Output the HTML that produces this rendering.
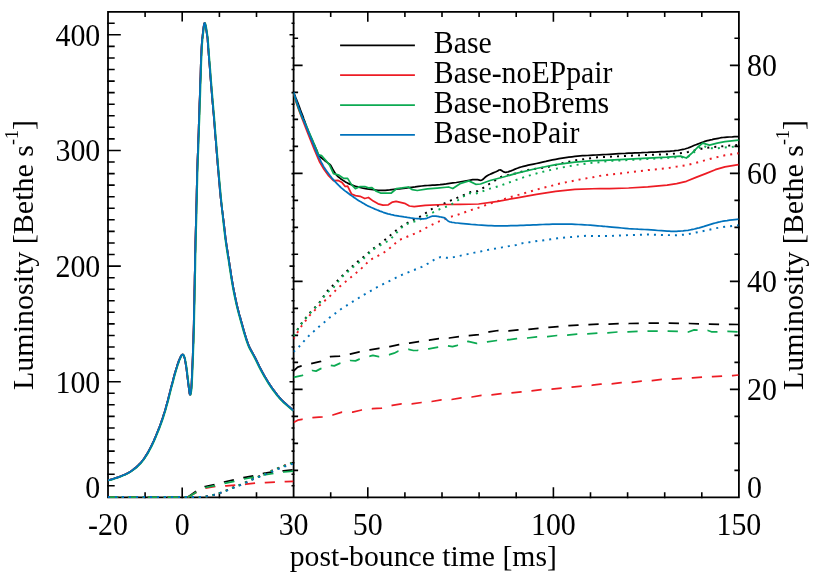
<!DOCTYPE html>
<html><head><meta charset="utf-8"><title>Luminosity</title>
<style>
html,body{margin:0;padding:0;background:#fff;}
svg{display:block;will-change:transform;}
.t{font-family:"Liberation Serif",serif;font-size:30.0px;fill:#000;}
</style></head><body>
<svg width="830" height="575" viewBox="0 0 830 575">
<defs><clipPath id="cl"><rect x="107.5" y="11.8" width="186.10000000000002" height="486.75"/></clipPath><clipPath id="cr"><rect x="293.6" y="11.8" width="445.79999999999995" height="486.75"/></clipPath></defs>
<rect width="830" height="575" fill="#fff"/>
<path d="M145.1 497.35 v-4.4 M145.1 11.8 v4.4 M182.2 497.35 v-9.0 M182.2 11.8 v9.0 M219.4 497.35 v-4.4 M219.4 11.8 v4.4 M256.5 497.35 v-4.4 M256.5 11.8 v4.4 M330.7 497.35 v-4.4 M330.7 11.8 v4.4 M367.8 497.35 v-9.2 M367.8 11.8 v9.2 M404.9 497.35 v-4.4 M404.9 11.8 v4.4 M442.0 497.35 v-4.4 M442.0 11.8 v4.4 M479.1 497.35 v-4.4 M479.1 11.8 v4.4 M516.2 497.35 v-4.4 M516.2 11.8 v4.4 M553.4 497.35 v-9.2 M553.4 11.8 v9.2 M590.5 497.35 v-4.4 M590.5 11.8 v4.4 M627.6 497.35 v-4.4 M627.6 11.8 v4.4 M664.7 497.35 v-4.4 M664.7 11.8 v4.4 M701.8 497.35 v-4.4 M701.8 11.8 v4.4 M108.0 485.8 h5.9 M293.6 485.8 h-1.3 M108.0 474.2 h5.9 M293.6 474.2 h-1.3 M108.0 462.7 h5.9 M293.6 462.7 h-1.3 M108.0 451.1 h5.9 M293.6 451.1 h-1.3 M108.0 439.5 h5.9 M293.6 439.5 h-1.3 M108.0 428.0 h5.9 M293.6 428.0 h-1.3 M108.0 416.4 h5.9 M293.6 416.4 h-1.3 M108.0 404.8 h5.9 M293.6 404.8 h-1.3 M108.0 393.3 h5.9 M293.6 393.3 h-1.3 M108.0 381.7 h12.0 M293.6 381.7 h-3.3 M108.0 370.2 h5.9 M293.6 370.2 h-1.3 M108.0 358.6 h5.9 M293.6 358.6 h-1.3 M108.0 347.0 h5.9 M293.6 347.0 h-1.3 M108.0 335.5 h5.9 M293.6 335.5 h-1.3 M108.0 323.9 h5.9 M293.6 323.9 h-1.3 M108.0 312.3 h5.9 M293.6 312.3 h-1.3 M108.0 300.8 h5.9 M293.6 300.8 h-1.3 M108.0 289.2 h5.9 M293.6 289.2 h-1.3 M108.0 277.7 h5.9 M293.6 277.7 h-1.3 M108.0 266.1 h12.0 M293.6 266.1 h-3.3 M108.0 254.5 h5.9 M293.6 254.5 h-1.3 M108.0 243.0 h5.9 M293.6 243.0 h-1.3 M108.0 231.4 h5.9 M293.6 231.4 h-1.3 M108.0 219.8 h5.9 M293.6 219.8 h-1.3 M108.0 208.3 h5.9 M293.6 208.3 h-1.3 M108.0 196.7 h5.9 M293.6 196.7 h-1.3 M108.0 185.1 h5.9 M293.6 185.1 h-1.3 M108.0 173.6 h5.9 M293.6 173.6 h-1.3 M108.0 162.0 h5.9 M293.6 162.0 h-1.3 M108.0 150.5 h12.0 M293.6 150.5 h-3.3 M108.0 138.9 h5.9 M293.6 138.9 h-1.3 M108.0 127.3 h5.9 M293.6 127.3 h-1.3 M108.0 115.8 h5.9 M293.6 115.8 h-1.3 M108.0 104.2 h5.9 M293.6 104.2 h-1.3 M108.0 92.6 h5.9 M293.6 92.6 h-1.3 M108.0 81.1 h5.9 M293.6 81.1 h-1.3 M108.0 69.5 h5.9 M293.6 69.5 h-1.3 M108.0 58.0 h5.9 M293.6 58.0 h-1.3 M108.0 46.4 h5.9 M293.6 46.4 h-1.3 M108.0 34.8 h12.0 M293.6 34.8 h-3.3 M108.0 23.3 h5.9 M293.6 23.3 h-1.3 M293.6 470.4 h3.7 M738.9 470.4 h-3.7 M293.6 443.4 h3.7 M738.9 443.4 h-3.7 M293.6 416.4 h3.7 M738.9 416.4 h-3.7 M293.6 389.4 h8.2 M738.9 389.4 h-8.2 M293.6 362.4 h3.7 M738.9 362.4 h-3.7 M293.6 335.4 h3.7 M738.9 335.4 h-3.7 M293.6 308.4 h3.7 M738.9 308.4 h-3.7 M293.6 281.4 h8.2 M738.9 281.4 h-8.2 M293.6 254.3 h3.7 M738.9 254.3 h-3.7 M293.6 227.4 h3.7 M738.9 227.4 h-3.7 M293.6 200.4 h3.7 M738.9 200.4 h-3.7 M293.6 173.4 h8.2 M738.9 173.4 h-8.2 M293.6 146.4 h3.7 M738.9 146.4 h-3.7 M293.6 119.4 h3.7 M738.9 119.4 h-3.7 M293.6 92.4 h3.7 M738.9 92.4 h-3.7 M293.6 65.4 h8.2 M738.9 65.4 h-8.2 M293.6 38.3 h3.7 M738.9 38.3 h-3.7" fill="none" stroke="#000" stroke-width="1.6" stroke-linecap="square" stroke-linejoin="miter"/>
<path d="M108.0 11.8 H738.9 V497.35 H108.0 Z M293.6 11.8 V497.35" fill="none" stroke="#000" stroke-width="1.8" stroke-linecap="square" stroke-linejoin="miter"/>
<path d="M108.0 480.3 L109.1 480.0 L110.5 479.6 L112.3 479.1 L114.1 478.5 L116.0 477.9 L117.8 477.3 L119.5 476.7 L121.2 476.0 L123.0 475.3 L124.7 474.6 L126.4 473.8 L128.1 472.9 L129.7 471.9 L131.4 470.9 L133.0 469.7 L134.5 468.5 L136.1 467.3 L137.5 466.0 L138.8 464.7 L140.1 463.4 L141.3 462.0 L142.5 460.5 L143.7 458.9 L144.9 457.2 L146.1 455.3 L147.4 453.3 L148.6 451.1 L149.8 448.8 L151.1 446.4 L152.3 443.9 L153.6 441.2 L154.8 438.3 L156.1 435.3 L157.3 432.3 L158.6 429.2 L159.7 426.2 L160.8 423.3 L161.8 420.4 L162.8 417.5 L163.7 414.6 L164.7 411.5 L165.6 408.4 L166.5 405.1 L167.5 401.6 L168.4 398.0 L169.3 394.4 L170.2 390.9 L171.0 387.7 L171.8 384.7 L172.6 381.8 L173.3 379.0 L174.0 376.3 L174.7 373.8 L175.4 371.4 L176.1 369.1 L176.8 366.9 L177.4 364.8 L178.1 362.9 L178.7 361.1 L179.3 359.6 L179.9 358.3 L180.4 357.1 L180.9 356.2 L181.3 355.5 L181.8 354.9 L182.2 354.6 L182.6 354.5 L183.0 354.6 L183.3 354.9 L183.6 355.4 L184.0 356.2 L184.3 357.2 L184.7 358.5 L185.0 360.2 L185.4 362.1 L185.7 364.2 L186.1 366.3 L186.4 368.5 L186.7 370.8 L187.0 373.3 L187.3 375.9 L187.6 378.5 L187.9 381.0 L188.2 383.3 L188.5 385.6 L188.8 388.0 L189.1 390.3 L189.4 392.3 L189.6 393.8 L189.9 394.5 L190.2 394.5 L190.4 393.9 L190.7 392.7 L190.9 391.0 L191.2 388.9 L191.4 386.2 L191.6 382.9 L191.8 378.8 L192.0 374.2 L192.2 369.4 L192.4 364.4 L192.6 359.6 L192.8 355.0 L192.9 350.6 L193.1 346.0 L193.3 341.2 L193.4 335.9 L193.6 330.0 L193.8 323.2 L193.9 315.6 L194.1 307.5 L194.3 299.3 L194.4 291.2 L194.6 283.5 L194.7 276.3 L194.9 269.2 L195.0 262.4 L195.1 255.5 L195.3 248.7 L195.4 241.8 L195.6 234.7 L195.8 227.3 L196.0 220.0 L196.2 212.8 L196.3 206.1 L196.5 200.0 L196.6 194.9 L196.7 190.6 L196.8 186.7 L196.9 182.9 L197.0 178.6 L197.1 173.5 L197.3 167.4 L197.5 160.7 L197.8 153.6 L198.1 146.3 L198.3 138.9 L198.6 131.8 L198.8 124.8 L199.1 117.8 L199.3 110.8 L199.5 103.8 L199.8 96.8 L200.0 90.0 L200.2 83.0 L200.5 75.8 L200.7 68.7 L200.9 61.9 L201.2 55.8 L201.4 50.7 L201.6 46.7 L201.8 43.7 L202.0 41.4 L202.1 39.4 L202.4 37.5 L202.6 35.4 L202.9 32.9 L203.2 30.1 L203.5 27.5 L203.9 25.2 L204.2 23.6 L204.6 23.0 L205.0 23.6 L205.4 25.2 L205.9 27.5 L206.3 30.1 L206.7 32.9 L207.1 35.4 L207.4 37.5 L207.6 39.4 L207.7 41.4 L207.9 43.7 L208.1 46.7 L208.4 50.7 L208.8 56.0 L209.3 62.3 L209.9 69.4 L210.4 76.6 L211.0 83.6 L211.5 90.0 L212.0 95.7 L212.4 101.0 L212.9 106.2 L213.3 111.2 L213.8 116.2 L214.2 121.3 L214.6 126.5 L215.0 131.7 L215.4 136.9 L215.9 142.2 L216.3 147.4 L216.7 152.6 L217.2 158.0 L217.6 163.6 L218.1 169.2 L218.6 174.6 L219.0 179.6 L219.4 183.9 L219.7 187.4 L219.9 190.2 L220.2 192.6 L220.4 194.8 L220.6 197.2 L220.9 200.0 L221.3 203.2 L221.7 206.6 L222.2 210.1 L222.7 213.8 L223.1 217.4 L223.6 220.9 L224.0 224.4 L224.4 227.9 L224.8 231.4 L225.2 234.8 L225.6 238.3 L226.1 241.8 L226.6 245.3 L227.1 248.7 L227.7 252.2 L228.2 255.7 L228.8 259.1 L229.3 262.6 L229.8 266.1 L230.4 269.6 L230.9 273.0 L231.4 276.5 L232.0 280.0 L232.6 283.5 L233.2 287.0 L233.9 290.7 L234.7 294.3 L235.4 297.8 L236.1 301.2 L236.8 304.4 L237.5 307.2 L238.1 309.7 L238.7 312.0 L239.3 314.4 L240.1 317.0 L240.9 320.0 L241.9 323.6 L243.0 327.6 L244.2 331.8 L245.5 336.0 L246.7 339.9 L247.9 343.3 L249.0 346.1 L250.1 348.4 L251.2 350.5 L252.3 352.4 L253.4 354.4 L254.6 356.6 L255.8 359.0 L257.0 361.4 L258.2 363.9 L259.4 366.4 L260.7 368.9 L262.0 371.4 L263.4 373.9 L264.8 376.4 L266.3 378.9 L267.8 381.4 L269.3 383.8 L270.9 386.2 L272.5 388.5 L274.2 390.8 L275.9 393.1 L277.6 395.3 L279.4 397.4 L281.3 399.5 L283.4 401.6 L285.7 403.7 L288.1 405.8 L290.3 407.7 L292.2 409.3 L293.5 410.5" fill="none" stroke="#000000" stroke-width="1.75" stroke-linejoin="round" stroke-linecap="butt" clip-path="url(#cl)"/>
<path d="M108.0 480.3 L109.1 480.0 L110.5 479.6 L112.3 479.1 L114.1 478.5 L116.0 477.9 L117.8 477.3 L119.5 476.7 L121.2 476.0 L123.0 475.3 L124.7 474.6 L126.4 473.8 L128.1 472.9 L129.7 471.9 L131.4 470.9 L133.0 469.7 L134.5 468.5 L136.1 467.3 L137.5 466.0 L138.8 464.7 L140.1 463.4 L141.3 462.0 L142.5 460.5 L143.7 458.9 L144.9 457.2 L146.1 455.3 L147.4 453.3 L148.6 451.1 L149.8 448.8 L151.1 446.4 L152.3 443.9 L153.6 441.2 L154.8 438.3 L156.1 435.3 L157.3 432.3 L158.6 429.2 L159.7 426.2 L160.8 423.3 L161.8 420.4 L162.8 417.5 L163.7 414.6 L164.7 411.5 L165.6 408.4 L166.5 405.1 L167.5 401.6 L168.4 398.0 L169.3 394.4 L170.2 390.9 L171.0 387.7 L171.8 384.7 L172.6 381.8 L173.3 379.0 L174.0 376.3 L174.7 373.8 L175.4 371.4 L176.1 369.1 L176.8 366.9 L177.4 364.8 L178.1 362.9 L178.7 361.1 L179.3 359.6 L179.9 358.3 L180.4 357.1 L180.9 356.2 L181.3 355.5 L181.8 354.9 L182.2 354.6 L182.6 354.5 L183.0 354.6 L183.3 354.9 L183.6 355.4 L184.0 356.2 L184.3 357.2 L184.7 358.5 L185.0 360.2 L185.4 362.1 L185.7 364.2 L186.1 366.3 L186.4 368.5 L186.7 370.8 L187.0 373.3 L187.3 375.9 L187.6 378.5 L187.9 381.0 L188.2 383.3 L188.5 385.6 L188.8 388.0 L189.1 390.3 L189.4 392.3 L189.6 393.8 L189.9 394.5 L190.2 394.5 L190.4 393.9 L190.7 392.7 L190.9 391.0 L191.2 388.9 L191.4 386.2 L191.6 382.9 L191.8 378.8 L192.0 374.2 L192.2 369.4 L192.4 364.4 L192.6 359.6 L192.8 355.0 L192.9 350.6 L193.1 346.0 L193.3 341.2 L193.4 335.9 L193.6 330.0 L193.8 323.2 L193.9 315.6 L194.1 307.5 L194.3 299.3 L194.4 291.2 L194.6 283.5 L194.7 276.3 L194.9 269.2 L195.0 262.4 L195.1 255.5 L195.3 248.7 L195.4 241.8 L195.6 234.7 L195.8 227.3 L196.0 220.0 L196.2 212.8 L196.3 206.1 L196.5 200.0 L196.6 194.9 L196.7 190.6 L196.8 186.7 L196.9 182.9 L197.0 178.6 L197.1 173.5 L197.3 167.4 L197.5 160.7 L197.8 153.6 L198.1 146.3 L198.3 138.9 L198.6 131.8 L198.8 124.8 L199.1 117.8 L199.3 110.8 L199.5 103.8 L199.8 96.8 L200.0 90.0 L200.2 83.0 L200.5 75.8 L200.7 68.7 L200.9 61.9 L201.2 55.8 L201.4 50.7 L201.6 46.7 L201.8 43.7 L202.0 41.4 L202.1 39.4 L202.4 37.5 L202.6 35.4 L202.9 32.9 L203.2 30.1 L203.5 27.5 L203.9 25.2 L204.2 23.6 L204.6 23.0 L205.0 23.6 L205.4 25.2 L205.9 27.5 L206.3 30.1 L206.7 32.9 L207.1 35.4 L207.4 37.5 L207.6 39.4 L207.7 41.4 L207.9 43.7 L208.1 46.7 L208.4 50.7 L208.8 56.0 L209.3 62.3 L209.9 69.4 L210.4 76.6 L211.0 83.6 L211.5 90.0 L212.0 95.7 L212.4 101.0 L212.9 106.2 L213.3 111.2 L213.8 116.2 L214.2 121.3 L214.6 126.5 L215.0 131.7 L215.4 136.9 L215.9 142.2 L216.3 147.4 L216.7 152.6 L217.2 158.0 L217.6 163.6 L218.1 169.2 L218.6 174.6 L219.0 179.6 L219.4 183.9 L219.7 187.4 L219.9 190.2 L220.2 192.6 L220.4 194.8 L220.6 197.2 L220.9 200.0 L221.3 203.2 L221.7 206.6 L222.2 210.1 L222.7 213.8 L223.1 217.4 L223.6 220.9 L224.0 224.4 L224.4 227.9 L224.8 231.4 L225.2 234.8 L225.6 238.3 L226.1 241.8 L226.6 245.3 L227.1 248.7 L227.7 252.2 L228.2 255.7 L228.8 259.1 L229.3 262.6 L229.8 266.1 L230.4 269.6 L230.9 273.0 L231.4 276.5 L232.0 280.0 L232.6 283.5 L233.2 287.0 L233.9 290.7 L234.7 294.3 L235.4 297.8 L236.1 301.2 L236.8 304.4 L237.5 307.2 L238.1 309.7 L238.7 312.0 L239.3 314.4 L240.1 317.0 L240.9 320.0 L241.9 323.6 L243.0 327.6 L244.2 331.8 L245.5 336.0 L246.7 339.9 L247.9 343.3 L249.0 346.1 L250.1 348.4 L251.2 350.5 L252.3 352.4 L253.4 354.4 L254.6 356.6 L255.8 359.0 L257.0 361.4 L258.2 363.9 L259.4 366.4 L260.7 368.9 L262.0 371.4 L263.4 373.9 L264.8 376.4 L266.3 378.9 L267.8 381.4 L269.3 383.8 L270.9 386.2 L272.5 388.5 L274.2 390.8 L275.9 393.1 L277.6 395.3 L279.4 397.4 L281.3 399.5 L283.4 401.6 L285.7 403.7 L288.1 405.8 L290.3 407.7 L292.2 409.3 L293.5 410.5" fill="none" stroke="#ed1c24" stroke-width="1.75" stroke-linejoin="round" stroke-linecap="butt" clip-path="url(#cl)"/>
<path d="M108.4 480.5 L109.5 480.2 L110.9 479.8 L112.7 479.3 L114.5 478.7 L116.4 478.1 L118.2 477.5 L119.9 476.9 L121.6 476.2 L123.4 475.5 L125.1 474.8 L126.8 474.0 L128.5 473.1 L130.1 472.1 L131.8 471.1 L133.4 469.9 L134.9 468.7 L136.5 467.5 L137.9 466.2 L139.2 464.9 L140.5 463.6 L141.7 462.2 L142.9 460.7 L144.1 459.1 L145.3 457.4 L146.5 455.5 L147.8 453.5 L149.0 451.3 L150.2 449.0 L151.5 446.6 L152.7 444.1 L154.0 441.4 L155.2 438.5 L156.5 435.5 L157.7 432.5 L159.0 429.4 L160.1 426.4 L161.2 423.5 L162.2 420.6 L163.2 417.7 L164.1 414.8 L165.1 411.7 L166.0 408.6 L166.9 405.3 L167.9 401.8 L168.8 398.2 L169.7 394.6 L170.6 391.1 L171.4 387.9 L172.2 384.9 L173.0 382.0 L173.7 379.2 L174.4 376.5 L175.1 374.0 L175.8 371.6 L176.5 369.3 L177.2 367.1 L177.8 365.0 L178.5 363.1 L179.1 361.3 L179.7 359.8 L180.3 358.5 L180.8 357.3 L181.3 356.4 L181.7 355.7 L182.2 355.1 L182.6 354.8 L183.0 354.7 L183.4 354.8 L183.7 355.1 L184.0 355.6 L184.4 356.4 L184.7 357.4 L185.1 358.7 L185.4 360.4 L185.8 362.3 L186.1 364.4 L186.5 366.5 L186.8 368.7 L187.1 371.0 L187.4 373.5 L187.7 376.1 L188.0 378.7 L188.3 381.2 L188.6 383.5 L188.9 385.8 L189.2 388.2 L189.5 390.5 L189.8 392.5 L190.0 394.0 L190.3 394.7 L190.6 394.7 L190.8 394.1 L191.1 392.9 L191.3 391.2 L191.6 389.1 L191.8 386.4 L192.0 383.1 L192.2 379.0 L192.4 374.4 L192.6 369.6 L192.8 364.6 L193.0 359.8 L193.2 355.2 L193.3 350.8 L193.5 346.2 L193.7 341.4 L193.8 336.1 L194.0 330.2 L194.2 323.4 L194.3 315.8 L194.5 307.7 L194.7 299.5 L194.8 291.4 L195.0 283.7 L195.1 276.5 L195.3 269.4 L195.4 262.6 L195.5 255.7 L195.7 248.9 L195.8 242.0 L196.0 234.9 L196.2 227.5 L196.4 220.2 L196.6 213.0 L196.7 206.3 L196.9 200.2 L197.0 195.1 L197.1 190.8 L197.2 186.9 L197.3 183.1 L197.4 178.8 L197.5 173.7 L197.7 167.6 L197.9 160.9 L198.2 153.8 L198.5 146.5 L198.7 139.1 L199.0 132.0 L199.2 125.0 L199.5 118.0 L199.7 110.9 L199.9 104.0 L200.2 97.0 L200.4 90.2 L200.6 83.2 L200.9 76.0 L201.1 68.9 L201.3 62.1 L201.6 56.0 L201.8 50.9 L202.0 46.9 L202.2 43.9 L202.4 41.6 L202.5 39.6 L202.8 37.7 L203.0 35.6 L203.3 33.1 L203.6 30.3 L203.9 27.7 L204.3 25.4 L204.6 23.8 L205.0 23.2 L205.4 23.8 L205.8 25.4 L206.3 27.7 L206.7 30.3 L207.1 33.1 L207.5 35.6 L207.8 37.7 L208.0 39.6 L208.1 41.6 L208.3 43.9 L208.5 46.9 L208.8 50.9 L209.2 56.2 L209.7 62.5 L210.3 69.6 L210.8 76.8 L211.4 83.8 L211.9 90.2 L212.4 95.9 L212.8 101.2 L213.3 106.3 L213.7 111.4 L214.2 116.4 L214.6 121.5 L215.0 126.7 L215.4 131.9 L215.8 137.2 L216.3 142.4 L216.7 147.6 L217.1 152.8 L217.6 158.2 L218.0 163.8 L218.5 169.4 L219.0 174.8 L219.4 179.8 L219.8 184.1 L220.1 187.6 L220.4 190.4 L220.6 192.8 L220.8 195.0 L221.0 197.4 L221.3 200.2 L221.6 203.4 L221.9 206.9 L222.2 210.4 L222.5 214.1 L222.8 217.7 L223.2 221.3 L223.6 224.8 L224.0 228.3 L224.4 231.8 L224.8 235.2 L225.2 238.7 L225.7 242.2 L226.2 245.7 L226.7 249.1 L227.2 252.6 L227.8 256.1 L228.4 259.5 L228.9 263.0 L229.4 266.5 L230.0 270.0 L230.5 273.4 L231.0 276.9 L231.6 280.4 L232.2 283.9 L232.8 287.4 L233.5 291.1 L234.2 294.7 L235.0 298.2 L235.7 301.6 L236.4 304.8 L237.1 307.6 L237.7 310.1 L238.3 312.4 L238.9 314.8 L239.7 317.4 L240.5 320.4 L241.5 324.0 L242.6 328.0 L243.8 332.2 L245.1 336.4 L246.3 340.3 L247.5 343.7 L248.6 346.5 L249.7 348.8 L250.8 350.9 L251.9 352.8 L253.0 354.8 L254.2 357.0 L255.4 359.4 L256.6 361.8 L257.8 364.3 L259.0 366.8 L260.3 369.3 L261.6 371.8 L263.0 374.3 L264.4 376.8 L265.9 379.3 L267.4 381.8 L268.9 384.2 L270.5 386.6 L272.1 388.9 L273.8 391.2 L275.5 393.5 L277.2 395.7 L279.0 397.8 L280.9 399.9 L283.0 402.0 L285.3 404.1 L287.7 406.2 L289.9 408.1 L291.8 409.7 L293.1 410.9" fill="none" stroke="#0caa52" stroke-width="1.75" stroke-linejoin="round" stroke-linecap="butt" clip-path="url(#cl)"/>
<path d="M108.0 480.3 L109.1 480.0 L110.5 479.6 L112.3 479.1 L114.1 478.5 L116.0 477.9 L117.8 477.3 L119.5 476.7 L121.2 476.0 L123.0 475.3 L124.7 474.6 L126.4 473.8 L128.1 472.9 L129.7 471.9 L131.4 470.9 L133.0 469.7 L134.5 468.5 L136.1 467.3 L137.5 466.0 L138.8 464.7 L140.1 463.4 L141.3 462.0 L142.5 460.5 L143.7 458.9 L144.9 457.2 L146.1 455.3 L147.4 453.3 L148.6 451.1 L149.8 448.8 L151.1 446.4 L152.3 443.9 L153.6 441.2 L154.8 438.3 L156.1 435.3 L157.3 432.3 L158.6 429.2 L159.7 426.2 L160.8 423.3 L161.8 420.4 L162.8 417.5 L163.7 414.6 L164.7 411.5 L165.6 408.4 L166.5 405.1 L167.5 401.6 L168.4 398.0 L169.3 394.4 L170.2 390.9 L171.0 387.7 L171.8 384.7 L172.6 381.8 L173.3 379.0 L174.0 376.3 L174.7 373.8 L175.4 371.4 L176.1 369.1 L176.8 366.9 L177.4 364.8 L178.1 362.9 L178.7 361.1 L179.3 359.6 L179.9 358.3 L180.4 357.1 L180.9 356.2 L181.3 355.5 L181.8 354.9 L182.2 354.6 L182.6 354.5 L183.0 354.6 L183.3 354.9 L183.6 355.4 L184.0 356.2 L184.3 357.2 L184.7 358.5 L185.0 360.2 L185.4 362.1 L185.7 364.2 L186.1 366.3 L186.4 368.5 L186.7 370.8 L187.0 373.3 L187.3 375.9 L187.6 378.5 L187.9 381.0 L188.2 383.3 L188.5 385.6 L188.8 388.0 L189.1 390.3 L189.4 392.3 L189.6 393.8 L189.9 394.5 L190.2 394.5 L190.4 393.9 L190.7 392.7 L190.9 391.0 L191.2 388.9 L191.4 386.2 L191.6 382.9 L191.8 378.8 L192.0 374.2 L192.2 369.4 L192.4 364.4 L192.6 359.6 L192.8 355.0 L192.9 350.6 L193.1 346.0 L193.3 341.2 L193.4 335.9 L193.6 330.0 L193.8 323.2 L193.9 315.6 L194.1 307.5 L194.3 299.3 L194.4 291.2 L194.6 283.5 L194.7 276.3 L194.9 269.2 L195.0 262.4 L195.1 255.5 L195.3 248.7 L195.4 241.8 L195.6 234.7 L195.8 227.3 L196.0 220.0 L196.2 212.8 L196.3 206.1 L196.5 200.0 L196.6 194.9 L196.7 190.6 L196.8 186.7 L196.9 182.9 L197.0 178.6 L197.1 173.5 L197.3 167.4 L197.5 160.7 L197.8 153.6 L198.1 146.3 L198.3 138.9 L198.6 131.8 L198.8 124.8 L199.1 117.8 L199.3 110.8 L199.5 103.8 L199.8 96.8 L200.0 90.0 L200.2 83.0 L200.5 75.8 L200.7 68.7 L200.9 61.9 L201.2 55.8 L201.4 50.7 L201.6 46.7 L201.8 43.7 L202.0 41.4 L202.1 39.4 L202.4 37.5 L202.6 35.4 L202.9 32.9 L203.2 30.1 L203.5 27.5 L203.9 25.2 L204.2 23.6 L204.6 23.0 L205.0 23.6 L205.4 25.2 L205.9 27.5 L206.3 30.1 L206.7 32.9 L207.1 35.4 L207.4 37.5 L207.6 39.4 L207.7 41.4 L207.9 43.7 L208.1 46.7 L208.4 50.7 L208.8 56.0 L209.3 62.3 L209.9 69.4 L210.4 76.6 L211.0 83.6 L211.5 90.0 L212.0 95.7 L212.4 101.0 L212.9 106.2 L213.3 111.2 L213.8 116.2 L214.2 121.3 L214.6 126.5 L215.0 131.7 L215.4 136.9 L215.9 142.2 L216.3 147.4 L216.7 152.6 L217.2 158.0 L217.6 163.6 L218.1 169.2 L218.6 174.6 L219.0 179.6 L219.4 183.9 L219.7 187.4 L219.9 190.2 L220.2 192.6 L220.4 194.8 L220.6 197.2 L220.9 200.0 L221.3 203.2 L221.7 206.6 L222.2 210.1 L222.7 213.8 L223.1 217.4 L223.6 220.9 L224.0 224.4 L224.4 227.9 L224.8 231.4 L225.2 234.8 L225.6 238.3 L226.1 241.8 L226.6 245.3 L227.1 248.7 L227.7 252.2 L228.2 255.7 L228.8 259.1 L229.3 262.6 L229.8 266.1 L230.4 269.6 L230.9 273.0 L231.4 276.5 L232.0 280.0 L232.6 283.5 L233.2 287.0 L233.9 290.7 L234.7 294.3 L235.4 297.8 L236.1 301.2 L236.8 304.4 L237.5 307.2 L238.1 309.7 L238.7 312.0 L239.3 314.4 L240.1 317.0 L240.9 320.0 L241.9 323.6 L243.0 327.6 L244.2 331.8 L245.5 336.0 L246.7 339.9 L247.9 343.3 L249.0 346.1 L250.1 348.4 L251.2 350.5 L252.3 352.4 L253.4 354.4 L254.6 356.6 L255.8 359.0 L257.0 361.4 L258.2 363.9 L259.4 366.4 L260.7 368.9 L262.0 371.4 L263.4 373.9 L264.8 376.4 L266.3 378.9 L267.8 381.4 L269.3 383.8 L270.9 386.2 L272.5 388.5 L274.2 390.8 L275.9 393.1 L277.6 395.3 L279.4 397.4 L281.3 399.5 L283.4 401.6 L285.7 403.7 L288.1 405.8 L290.3 407.7 L292.2 409.3 L293.5 410.5" fill="none" stroke="#0072bc" stroke-width="1.75" stroke-linejoin="round" stroke-linecap="butt" clip-path="url(#cl)"/>
<path d="M108.0 497.0 L186.5 497.0 L188.0 497.0 L195.8 491.4 L205.2 486.5 L215.4 484.3 L224.0 482.0 L234.2 479.9 L243.6 477.6 L253.8 475.7 L263.7 473.4 L273.4 471.8 L283.5 470.9 L293.5 469.8" fill="none" stroke="#000000" stroke-width="1.75" stroke-linejoin="round" stroke-linecap="butt" stroke-dasharray="10.2 9.7" stroke-dashoffset="0" clip-path="url(#cl)"/>
<path d="M108.0 497.0 L186.5 497.0 L188.3 497.0 L196.2 492.4 L205.5 488.2 L215.4 486.5 L226.4 485.9 L235.0 485.1 L246.0 484.2 L255.4 483.2 L265.5 482.6 L275.2 482.0 L285.9 481.7 L293.5 481.3" fill="none" stroke="#ed1c24" stroke-width="1.75" stroke-linejoin="round" stroke-linecap="butt" stroke-dasharray="10.2 9.7" stroke-dashoffset="0" clip-path="url(#cl)"/>
<path d="M108.0 497.0 L186.5 497.0 L188.3 497.0 L196.2 492.2 L205.5 487.5 L215.4 485.5 L224.5 483.3 L234.2 481.3 L244.0 479.0 L253.8 477.2 L264.0 475.0 L273.7 473.3 L284.0 472.0 L293.5 471.0" fill="none" stroke="#0caa52" stroke-width="1.75" stroke-linejoin="round" stroke-linecap="butt" stroke-dasharray="10.2 9.7" stroke-dashoffset="0" clip-path="url(#cl)"/>
<path d="M108.0 497.0 L200.0 497.0 L206.8 496.4 L214.3 494.8 L221.0 492.6 L227.2 490.2 L233.4 487.5 L240.5 484.7 L246.7 481.9 L252.5 479.2 L259.3 476.3 L265.8 473.5 L272.6 470.5 L278.8 467.9 L285.9 465.1 L293.5 462.3" fill="none" stroke="#000000" stroke-width="1.95" stroke-linejoin="round" stroke-linecap="butt" stroke-dasharray="2.0 5.0" stroke-dashoffset="0" clip-path="url(#cl)"/>
<path d="M108.0 497.0 L200.0 497.0 L206.8 496.4 L214.3 494.8 L221.0 492.6 L227.2 490.2 L233.4 487.5 L240.5 484.7 L246.7 481.9 L252.5 479.2 L259.3 476.3 L265.8 473.5 L272.6 470.5 L278.8 467.9 L285.9 465.1 L293.5 462.3" fill="none" stroke="#ed1c24" stroke-width="1.95" stroke-linejoin="round" stroke-linecap="butt" stroke-dasharray="2.0 5.0" stroke-dashoffset="0.3" clip-path="url(#cl)"/>
<path d="M108.0 497.0 L200.0 497.0 L206.8 496.4 L214.3 494.8 L221.0 492.6 L227.2 490.2 L233.4 487.5 L240.5 484.7 L246.7 481.9 L252.5 479.2 L259.3 476.3 L265.8 473.5 L272.6 470.5 L278.8 467.9 L285.9 465.1 L293.5 462.3" fill="none" stroke="#0caa52" stroke-width="1.95" stroke-linejoin="round" stroke-linecap="butt" stroke-dasharray="2.0 5.0" stroke-dashoffset="0.6" clip-path="url(#cl)"/>
<path d="M108.0 497.0 L200.0 497.0 L206.8 496.4 L214.3 494.8 L221.0 492.6 L227.2 490.4 L233.4 487.8 L240.5 485.1 L246.7 482.3 L252.5 479.5 L259.3 476.8 L265.8 474.1 L272.6 471.3 L279.6 468.5 L286.7 465.8 L293.5 463.6" fill="none" stroke="#0072bc" stroke-width="1.95" stroke-linejoin="round" stroke-linecap="butt" stroke-dasharray="2.0 5.0" stroke-dashoffset="0" clip-path="url(#cl)"/>
<path d="M293.5 92.5 L293.8 93.2 L294.3 94.2 L294.8 95.4 L295.4 96.8 L295.9 98.1 L296.5 99.5 L297.0 100.9 L297.6 102.4 L298.2 103.9 L298.8 105.5 L299.4 107.0 L299.9 108.5 L300.4 109.9 L300.9 111.2 L301.4 112.5 L301.9 113.8 L302.4 115.1 L302.9 116.4 L303.4 117.7 L303.8 119.0 L304.3 120.3 L304.8 121.6 L305.2 122.9 L305.7 124.2 L306.2 125.5 L306.6 126.8 L307.1 128.1 L307.6 129.4 L308.1 130.7 L308.6 132.0 L309.1 133.3 L309.7 134.5 L310.2 135.8 L310.8 137.1 L311.4 138.4 L312.0 139.8 L312.7 141.3 L313.4 143.0 L314.2 144.7 L315.0 146.4 L315.7 148.0 L316.3 149.4 L316.8 150.6 L317.2 151.6 L317.5 152.6 L317.8 153.4 L318.2 154.2 L318.6 154.9 L319.1 155.5 L319.5 156.1 L320.0 156.6 L320.5 157.0 L321.1 157.5 L321.7 158.0 L322.4 158.6 L323.2 159.3 L324.0 159.9 L324.8 160.6 L325.6 161.3 L326.4 161.9 L327.1 162.4 L327.8 162.9 L328.5 163.4 L329.2 163.9 L329.8 164.4 L330.4 165.1 L331.0 165.9 L331.5 166.8 L332.0 167.7 L332.5 168.7 L333.0 169.6 L333.5 170.5 L334.0 171.3 L334.5 172.1 L335.0 172.9 L335.4 173.7 L336.0 174.5 L336.6 175.2 L337.3 175.9 L338.0 176.6 L338.8 177.2 L339.6 177.9 L340.4 178.5 L341.3 179.2 L342.3 179.9 L343.3 180.6 L344.4 181.2 L345.4 181.9 L346.5 182.5 L347.6 183.1 L348.7 183.6 L349.7 184.1 L350.8 184.5 L351.8 184.9 L352.9 185.3 L353.9 185.7 L354.9 186.1 L355.9 186.4 L357.0 186.7 L358.0 187.0 L359.0 187.2 L360.1 187.5 L361.1 187.7 L362.1 188.0 L363.1 188.2 L364.3 188.4 L365.5 188.6 L367.1 188.8 L369.0 189.1 L371.1 189.4 L373.4 189.7 L375.9 190.0 L378.3 190.3 L380.6 190.4 L382.9 190.4 L385.2 190.3 L387.5 190.1 L389.7 189.9 L392.0 189.6 L394.1 189.4 L396.1 189.2 L397.8 189.0 L399.5 188.8 L401.3 188.6 L403.3 188.4 L405.7 188.1 L408.5 187.7 L411.7 187.3 L415.1 186.9 L418.5 186.4 L421.8 186.0 L424.9 185.7 L427.6 185.5 L430.1 185.3 L432.4 185.2 L434.8 185.1 L437.3 184.9 L440.0 184.7 L443.0 184.3 L446.3 183.9 L449.6 183.4 L453.0 182.9 L456.3 182.5 L459.3 182.0 L462.2 181.5 L465.0 181.0 L467.8 180.5 L470.4 180.1 L472.7 179.7 L474.7 179.5 L476.3 179.5 L477.6 179.7 L478.6 179.9 L479.6 180.2 L480.4 180.3 L481.4 180.1 L482.4 179.7 L483.3 179.0 L484.2 178.2 L485.1 177.3 L486.1 176.5 L487.2 175.7 L488.5 175.0 L490.1 174.3 L491.6 173.6 L493.2 172.9 L494.7 172.3 L495.9 171.8 L496.9 171.3 L497.6 170.9 L498.3 170.5 L498.8 170.1 L499.4 170.0 L500.1 169.9 L500.8 170.1 L501.6 170.5 L502.3 171.0 L503.1 171.5 L503.8 171.9 L504.6 172.2 L505.3 172.3 L505.9 172.3 L506.6 172.2 L507.3 172.0 L508.2 171.8 L509.4 171.4 L510.9 170.9 L512.6 170.2 L514.5 169.4 L516.6 168.5 L518.8 167.7 L521.0 167.0 L523.3 166.4 L525.7 165.8 L528.2 165.2 L530.8 164.7 L533.6 164.1 L536.4 163.5 L539.4 162.8 L542.5 162.1 L545.8 161.4 L549.1 160.6 L552.4 159.9 L555.7 159.3 L559.0 158.7 L562.3 158.2 L565.6 157.7 L568.8 157.2 L571.9 156.8 L574.9 156.4 L577.6 156.1 L580.1 155.9 L582.4 155.7 L584.8 155.6 L587.3 155.5 L590.0 155.3 L593.0 155.1 L596.1 155.0 L599.4 154.8 L602.7 154.6 L606.0 154.5 L609.3 154.3 L612.5 154.1 L615.7 153.9 L619.0 153.7 L622.2 153.5 L625.4 153.4 L628.6 153.2 L631.8 153.1 L635.0 152.9 L638.2 152.8 L641.4 152.7 L644.6 152.5 L647.8 152.4 L651.1 152.2 L654.6 152.1 L658.0 151.9 L661.4 151.7 L664.4 151.6 L667.1 151.4 L669.3 151.3 L671.0 151.1 L672.5 151.0 L673.9 150.9 L675.2 150.7 L676.7 150.5 L678.3 150.3 L679.9 150.0 L681.5 149.7 L683.2 149.3 L684.8 149.0 L686.4 148.5 L688.0 148.0 L689.6 147.4 L691.2 146.7 L692.8 146.0 L694.4 145.3 L696.0 144.7 L697.6 144.1 L699.2 143.5 L700.9 142.9 L702.5 142.3 L704.1 141.7 L705.7 141.2 L707.3 140.7 L708.9 140.3 L710.5 139.9 L712.1 139.6 L713.7 139.2 L715.3 138.9 L716.9 138.6 L718.4 138.3 L719.8 138.0 L721.4 137.7 L723.1 137.5 L724.9 137.3 L727.1 137.1 L729.6 137.0 L732.3 136.9 L734.8 136.7 L737.0 136.7 L738.5 136.6" fill="none" stroke="#000000" stroke-width="1.75" stroke-linejoin="round" stroke-linecap="butt" clip-path="url(#cr)"/>
<path d="M293.5 371.1 L297.7 367.2 L301.6 365.9 L312.2 363.4 L320.8 361.4 L330.5 356.6 L339.7 356.2 L350.1 354.1 L359.4 351.8 L370.0 349.9 L379.0 348.3 L389.7 346.6 L398.9 344.7 L409.5 343.1 L418.8 341.6 L429.2 340.2 L438.8 338.7 L449.3 338.0 L458.9 336.6 L468.9 335.7 L478.6 334.7 L489.2 331.8 L498.2 330.5 L508.8 330.8 L518.1 329.9 L528.7 329.3 L538.3 328.3 L548.9 327.4 L558.0 326.6 L568.8 325.6 L577.8 325.1 L588.8 324.7 L598.5 324.1 L608.9 324.1 L618.5 323.7 L629.1 323.5 L638.8 323.3 L649.4 323.1 L659.0 323.1 L669.4 323.1 L679.1 323.3 L689.7 323.5 L699.3 323.9 L709.5 324.1 L719.2 324.3 L729.8 324.3 L738.5 324.5" fill="none" stroke="#000000" stroke-width="1.75" stroke-linejoin="round" stroke-linecap="butt" stroke-dasharray="10.3 9.78" stroke-dashoffset="0.4" clip-path="url(#cr)"/>
<path d="M293.5 336.0 L300.6 324.5 L309.3 313.3 L318.9 303.3 L326.6 291.7 L336.3 282.0 L345.9 272.0 L357.5 261.8 L367.1 254.1 L371.9 249.5 L378.7 245.1 L384.5 240.2 L390.2 235.4 L396.0 230.6 L401.8 226.4 L407.6 222.9 L413.4 220.0 L419.2 217.1 L424.9 213.6 L432.7 208.4 L438.4 205.5 L443.9 203.6 L451.6 200.1 L458.3 197.3 L465.1 194.6 L470.8 192.0 L477.6 191.1 L484.3 187.2 L489.2 184.0 L501.7 176.6 L515.0 173.5 L530.0 169.5 L547.9 167.0 L554.7 165.1 L562.4 163.1 L569.2 161.6 L575.9 160.2 L583.0 159.3 L590.4 158.3 L597.1 157.3 L609.0 156.8 L628.0 155.8 L647.0 155.0 L667.1 154.3 L680.0 153.2 L688.0 152.0 L696.0 150.0 L705.0 148.0 L713.4 147.0 L721.1 146.4 L728.8 145.6 L738.5 145.0" fill="none" stroke="#000000" stroke-width="1.95" stroke-linejoin="round" stroke-linecap="butt" stroke-dasharray="2.0 5.0" stroke-dashoffset="0" clip-path="url(#cr)"/>
<path d="M293.5 94.0 L295.7 101.0 L298.5 109.0 L301.5 117.0 L304.5 124.8 L307.6 132.6 L310.8 140.6 L314.7 150.5 L319.4 161.5 L324.1 169.5 L328.8 176.0 L333.5 180.7 L338.2 180.4 L342.1 182.6 L345.2 186.5 L347.6 186.2 L351.5 194.0 L355.4 195.6 L360.0 196.3 L364.8 198.5 L368.4 197.5 L373.3 201.1 L378.1 203.8 L382.9 205.1 L388.3 204.8 L392.5 202.1 L396.1 201.4 L404.6 203.3 L409.4 206.0 L414.2 206.6 L425.1 205.4 L444.3 204.5 L460.0 204.4 L478.6 204.0 L497.8 201.3 L517.1 197.8 L536.4 194.4 L555.7 191.3 L574.9 189.3 L600.0 188.5 L609.3 188.6 L628.6 188.0 L647.8 186.9 L667.1 185.2 L676.7 183.6 L686.4 181.3 L696.0 177.4 L705.7 173.6 L715.3 169.7 L724.9 166.8 L738.5 164.7" fill="none" stroke="#ed1c24" stroke-width="1.75" stroke-linejoin="round" stroke-linecap="butt" clip-path="url(#cr)"/>
<path d="M293.5 422.6 L297.7 420.2 L302.0 419.3 L312.7 417.7 L322.4 416.8 L332.8 415.0 L342.0 412.1 L352.7 412.1 L361.7 410.0 L372.5 408.7 L381.6 408.1 L392.2 405.4 L401.4 403.9 L411.8 403.9 L421.5 402.5 L431.7 401.5 L441.3 399.8 L451.6 399.5 L461.2 397.9 L471.8 397.0 L481.4 395.4 L491.7 394.8 L501.3 393.7 L511.7 392.9 L521.3 391.8 L531.6 390.8 L541.2 389.6 L551.8 389.1 L561.4 388.1 L572.0 387.1 L581.7 386.2 L592.3 385.2 L600.6 384.2 L611.6 383.9 L621.2 382.7 L631.8 382.3 L641.5 381.2 L652.1 380.6 L661.7 379.4 L672.3 379.2 L682.0 378.3 L692.6 377.9 L702.2 377.1 L712.8 376.7 L722.4 376.0 L732.7 375.6 L738.5 375.0" fill="none" stroke="#ed1c24" stroke-width="1.75" stroke-linejoin="round" stroke-linecap="butt" stroke-dasharray="10.3 9.82" stroke-dashoffset="0.4" clip-path="url(#cr)"/>
<path d="M293.5 338.9 L300.6 327.3 L309.3 315.8 L318.9 306.1 L329.5 296.5 L339.2 286.9 L349.8 278.2 L360.4 269.5 L370.0 259.9 L382.5 253.5 L388.3 249.5 L393.1 245.1 L398.9 240.2 L405.7 237.3 L411.4 235.0 L418.2 232.1 L424.0 229.1 L429.8 225.8 L436.5 222.5 L442.9 220.0 L449.6 217.1 L456.4 215.2 L463.1 212.9 L469.9 210.4 L476.6 208.4 L482.8 206.1 L495.9 201.7 L509.4 197.4 L516.1 195.5 L522.9 193.6 L529.6 191.7 L536.4 189.7 L543.1 187.8 L549.9 186.3 L556.6 184.3 L563.4 182.8 L571.1 181.3 L577.8 179.9 L584.6 178.6 L592.3 177.4 L599.6 175.9 L609.3 174.6 L618.9 173.6 L628.6 172.4 L638.2 171.3 L647.8 170.1 L657.5 169.2 L667.1 168.2 L676.7 166.6 L686.4 165.3 L696.0 162.8 L705.7 160.1 L715.3 157.6 L724.9 155.3 L738.5 153.2" fill="none" stroke="#ed1c24" stroke-width="1.95" stroke-linejoin="round" stroke-linecap="butt" stroke-dasharray="2.0 5.0" stroke-dashoffset="0" clip-path="url(#cr)"/>
<path d="M293.5 93.0 L295.8 100.5 L298.6 108.5 L301.8 116.8 L305.6 124.2 L309.0 132.0 L312.4 139.8 L316.3 149.4 L318.6 154.9 L321.7 155.7 L325.7 160.4 L329.6 165.1 L333.5 173.7 L339.0 175.2 L343.7 178.4 L347.6 178.4 L351.5 184.6 L355.4 188.6 L360.1 186.5 L364.8 186.5 L368.4 187.9 L372.0 187.7 L375.7 190.9 L380.5 193.0 L391.3 193.0 L396.7 188.5 L402.2 187.9 L408.2 187.0 L412.4 189.7 L417.2 190.5 L427.5 188.9 L437.1 188.1 L448.6 187.0 L452.8 188.5 L460.0 183.7 L468.9 180.9 L475.7 184.3 L480.5 184.0 L490.1 180.5 L503.6 177.0 L517.1 173.2 L536.4 168.5 L555.7 164.7 L574.9 162.2 L590.0 160.9 L609.3 160.1 L628.6 159.1 L647.8 158.2 L667.1 157.2 L680.6 156.2 L686.4 158.0 L692.2 152.8 L697.9 147.0 L702.8 143.1 L709.5 145.1 L717.2 143.1 L724.9 141.6 L738.5 140.2" fill="none" stroke="#0caa52" stroke-width="1.75" stroke-linejoin="round" stroke-linecap="butt" clip-path="url(#cr)"/>
<path d="M293.5 377.4 L302.5 375.3 L312.2 370.5 L316.0 371.1 L320.8 368.6 L330.5 365.3 L334.3 365.9 L339.7 363.4 L350.1 360.5 L355.5 360.9 L359.4 359.1 L370.0 356.2 L372.9 355.3 L378.7 356.6 L389.3 354.7 L394.1 353.2 L398.0 351.2 L408.6 349.3 L413.4 350.5 L417.6 350.3 L428.8 348.9 L438.4 347.0 L447.7 345.9 L452.5 346.7 L457.3 345.3 L468.0 341.4 L476.6 343.4 L487.2 341.8 L496.9 340.5 L507.1 339.9 L516.7 338.6 L527.3 338.0 L536.8 336.8 L547.4 336.6 L557.0 335.5 L567.2 335.1 L576.9 334.1 L587.5 333.9 L598.5 333.0 L607.7 332.8 L617.4 332.0 L628.0 331.8 L637.6 331.4 L647.8 331.2 L657.5 331.0 L668.1 331.2 L677.7 331.4 L688.3 332.0 L694.1 329.9 L697.4 330.1 L708.0 330.5 L711.4 331.8 L717.2 331.8 L727.8 331.4 L738.5 332.0" fill="none" stroke="#0caa52" stroke-width="1.75" stroke-linejoin="round" stroke-linecap="butt" stroke-dasharray="10.3 9.83" stroke-dashoffset="0.4" clip-path="url(#cr)"/>
<path d="M293.5 336.0 L300.6 325.0 L309.3 314.0 L318.9 304.0 L326.6 293.0 L333.4 287.8 L341.0 278.0 L351.7 268.2 L362.3 259.9 L372.9 249.5 L379.6 245.6 L384.4 243.1 L390.2 239.5 L395.1 234.4 L400.0 229.2 L405.1 224.7 L411.5 222.2 L418.1 220.6 L424.4 217.0 L430.6 213.6 L436.9 210.4 L442.9 207.9 L449.6 205.5 L455.4 202.1 L461.2 197.8 L468.9 193.0 L473.7 194.0 L480.5 192.4 L486.3 189.7 L493.0 187.8 L499.8 185.9 L506.5 183.4 L513.3 180.9 L520.0 178.6 L526.7 176.2 L533.5 174.3 L540.2 172.4 L547.0 170.8 L553.7 169.3 L561.4 167.6 L568.2 166.4 L574.9 165.1 L582.7 164.1 L589.4 163.1 L596.1 162.6 L609.3 161.0 L628.6 160.0 L647.8 159.0 L667.1 158.0 L680.6 157.0 L686.4 158.0 L692.0 154.0 L698.0 149.0 L702.8 145.1 L707.6 148.0 L715.3 148.5 L723.0 147.6 L730.7 147.0 L738.5 146.2" fill="none" stroke="#0caa52" stroke-width="1.95" stroke-linejoin="round" stroke-linecap="butt" stroke-dasharray="2.0 5.0" stroke-dashoffset="0" clip-path="url(#cr)"/>
<path d="M293.5 92.0 L293.8 92.9 L294.2 94.2 L294.7 95.8 L295.3 97.4 L295.8 99.0 L296.3 100.5 L296.8 101.9 L297.2 103.2 L297.7 104.5 L298.2 105.9 L298.6 107.2 L299.1 108.5 L299.6 109.8 L300.1 111.1 L300.6 112.5 L301.1 113.8 L301.6 115.1 L302.1 116.4 L302.6 117.7 L303.1 119.0 L303.6 120.3 L304.2 121.6 L304.7 122.9 L305.2 124.2 L305.7 125.5 L306.2 126.8 L306.7 128.1 L307.3 129.4 L307.8 130.7 L308.3 132.0 L308.8 133.3 L309.4 134.7 L309.9 136.0 L310.5 137.3 L311.0 138.6 L311.5 139.8 L312.0 140.9 L312.4 142.0 L312.8 143.0 L313.2 144.0 L313.6 145.0 L314.0 146.0 L314.4 147.1 L314.9 148.2 L315.4 149.4 L315.8 150.5 L316.2 151.5 L316.6 152.3 L316.8 152.9 L317.0 153.3 L317.1 153.5 L317.3 153.8 L317.5 154.3 L317.8 155.0 L318.3 156.0 L318.9 157.3 L319.6 158.7 L320.3 160.2 L321.0 161.7 L321.7 163.0 L322.4 164.2 L323.0 165.4 L323.7 166.6 L324.4 167.7 L325.0 168.8 L325.7 169.8 L326.4 170.8 L327.0 171.7 L327.7 172.5 L328.3 173.3 L329.0 174.2 L329.6 175.0 L330.2 175.8 L330.8 176.5 L331.3 177.3 L331.9 178.1 L332.6 178.9 L333.5 179.9 L334.6 181.1 L335.8 182.4 L337.2 183.8 L338.5 185.2 L339.9 186.5 L341.3 187.8 L342.6 188.9 L343.9 190.0 L345.3 191.1 L346.6 192.0 L347.9 193.0 L349.2 194.0 L350.5 195.0 L351.8 195.9 L353.1 196.8 L354.4 197.8 L355.7 198.6 L357.0 199.5 L358.4 200.4 L359.8 201.3 L361.2 202.1 L362.6 202.9 L363.8 203.6 L364.8 204.2 L365.4 204.6 L365.7 204.8 L365.8 204.9 L366.0 205.0 L366.4 205.1 L367.1 205.5 L368.3 206.1 L369.8 206.7 L371.4 207.5 L373.2 208.3 L375.0 209.1 L376.7 209.8 L378.3 210.4 L379.9 211.1 L381.6 211.7 L383.2 212.3 L384.8 212.8 L386.4 213.3 L388.0 213.8 L389.6 214.2 L391.2 214.6 L392.8 214.9 L394.4 215.3 L396.0 215.6 L397.6 215.9 L399.2 216.2 L400.8 216.4 L402.5 216.6 L404.1 216.9 L405.7 217.1 L407.3 217.4 L408.9 217.6 L410.5 217.9 L412.1 218.1 L413.7 218.3 L415.3 218.5 L417.0 218.6 L418.7 218.7 L420.5 218.8 L422.1 218.8 L423.6 218.8 L424.9 218.7 L425.8 218.6 L426.5 218.4 L427.0 218.2 L427.5 218.0 L427.9 217.7 L428.5 217.5 L429.2 217.3 L429.9 217.0 L430.6 216.7 L431.3 216.5 L432.0 216.2 L432.7 216.1 L433.4 216.0 L434.1 216.0 L434.8 216.1 L435.5 216.1 L436.2 216.2 L437.0 216.3 L437.9 216.4 L438.8 216.6 L439.8 216.8 L440.7 217.0 L441.6 217.1 L442.3 217.3 L442.9 217.4 L443.3 217.5 L443.6 217.6 L444.0 217.7 L444.3 217.8 L444.8 218.1 L445.4 218.5 L446.0 219.1 L446.6 219.7 L447.3 220.3 L448.0 220.9 L448.7 221.3 L449.3 221.6 L449.8 221.8 L450.4 222.0 L451.1 222.1 L452.1 222.3 L453.5 222.5 L455.4 222.8 L457.7 223.0 L460.3 223.3 L463.1 223.6 L466.0 223.9 L468.9 224.2 L471.9 224.5 L475.0 224.7 L478.3 225.0 L481.6 225.2 L484.9 225.4 L488.2 225.6 L491.4 225.7 L494.6 225.8 L497.9 225.8 L501.1 225.8 L504.3 225.8 L507.5 225.8 L510.7 225.7 L513.9 225.7 L517.1 225.6 L520.3 225.4 L523.5 225.3 L526.7 225.2 L529.9 225.1 L533.1 224.9 L536.3 224.8 L539.6 224.6 L542.8 224.5 L546.0 224.4 L549.2 224.3 L552.4 224.2 L555.6 224.1 L558.9 224.0 L562.1 224.0 L565.3 224.0 L568.6 224.1 L571.9 224.2 L575.2 224.3 L578.5 224.5 L581.6 224.6 L584.6 224.8 L587.5 225.0 L590.2 225.2 L592.9 225.4 L595.5 225.6 L597.8 225.8 L600.0 226.0 L601.8 226.1 L603.2 226.3 L604.4 226.4 L605.7 226.5 L607.2 226.6 L609.3 226.8 L611.9 227.1 L615.0 227.4 L618.3 227.7 L621.8 228.0 L625.3 228.3 L628.6 228.6 L631.8 228.8 L635.0 229.0 L638.2 229.2 L641.4 229.3 L644.6 229.5 L647.8 229.7 L651.1 229.9 L654.6 230.2 L658.0 230.5 L661.4 230.7 L664.4 230.9 L667.1 231.1 L669.3 231.2 L671.0 231.3 L672.5 231.3 L673.9 231.4 L675.2 231.3 L676.7 231.3 L678.3 231.2 L679.9 231.1 L681.5 231.0 L683.2 230.9 L684.8 230.7 L686.4 230.5 L688.0 230.3 L689.6 230.0 L691.2 229.7 L692.8 229.3 L694.4 229.0 L696.0 228.6 L697.6 228.2 L699.2 227.8 L700.9 227.3 L702.5 226.8 L704.1 226.4 L705.7 225.9 L707.3 225.4 L708.9 224.9 L710.5 224.4 L712.1 223.9 L713.7 223.4 L715.3 223.0 L716.9 222.6 L718.4 222.2 L719.8 221.9 L721.4 221.5 L723.1 221.2 L724.9 220.9 L727.1 220.6 L729.6 220.2 L732.3 219.9 L734.8 219.6 L737.0 219.3 L738.5 219.1" fill="none" stroke="#0072bc" stroke-width="1.75" stroke-linejoin="round" stroke-linecap="butt" clip-path="url(#cr)"/>
<path d="M293.5 351.8 L298.7 347.0 L303.5 341.6 L308.3 336.4 L313.5 331.6 L318.9 326.7 L324.3 322.3 L329.5 317.7 L341.1 309.0 L352.7 301.7 L364.2 294.6 L376.7 287.4 L389.3 281.1 L401.8 274.9 L415.3 269.5 L421.8 266.9 L427.9 263.6 L434.0 259.8 L440.3 257.1 L447.0 257.8 L453.9 257.1 L460.8 255.6 L467.7 254.1 L474.6 252.6 L481.5 251.3 L488.5 249.8 L495.3 248.6 L502.2 247.4 L509.2 246.1 L516.2 245.0 L522.9 243.1 L529.6 242.2 L537.3 241.0 L544.1 240.2 L550.8 239.3 L557.6 238.3 L565.3 237.5 L572.0 237.0 L578.8 236.4 L586.5 235.8 L593.3 236.1 L609.3 236.0 L628.6 235.1 L647.8 234.5 L667.1 235.1 L676.7 235.2 L686.4 234.5 L696.0 232.5 L705.7 230.6 L715.3 228.3 L724.9 226.8 L733.6 225.8 L738.5 225.3" fill="none" stroke="#0072bc" stroke-width="1.95" stroke-linejoin="round" stroke-linecap="butt" stroke-dasharray="2.0 5.0" stroke-dashoffset="0" clip-path="url(#cr)"/>
<path d="M340.1 45.3 H414.9" stroke="#000000" stroke-width="1.75" fill="none"/>
<text x="433.8" y="53.0" class="t" style="font-size:29.8px" transform="translate(0,-1.33) scale(1,1.025)">Base</text>
<path d="M340.1 75.2 H414.9" stroke="#ed1c24" stroke-width="1.75" fill="none"/>
<text x="433.8" y="82.9" class="t" style="font-size:29.8px" transform="translate(0,-2.07) scale(1,1.025)">Base-noEPpair</text>
<path d="M340.1 105.0 H414.9" stroke="#0caa52" stroke-width="1.75" fill="none"/>
<text x="433.8" y="112.7" class="t" style="font-size:29.8px" transform="translate(0,-2.82) scale(1,1.025)">Base-noBrems</text>
<path d="M340.1 134.9 H414.9" stroke="#0072bc" stroke-width="1.75" fill="none"/>
<text x="433.8" y="142.6" class="t" style="font-size:29.8px" transform="translate(0,-3.57) scale(1,1.025)">Base-noPair</text>
<text transform="translate(108.0,535.3) scale(1,1.07)" class="t" style="font-size:29.9px" text-anchor="middle">-20</text>
<text transform="translate(182.2,535.3) scale(1,1.07)" class="t" style="font-size:29.9px" text-anchor="middle">0</text>
<text transform="translate(293.6,535.3) scale(1,1.07)" class="t" style="font-size:29.9px" text-anchor="middle">30</text>
<text transform="translate(367.8,535.3) scale(1,1.07)" class="t" style="font-size:29.9px" text-anchor="middle">50</text>
<text transform="translate(553.4,535.3) scale(1,1.07)" class="t" style="font-size:29.9px" text-anchor="middle">100</text>
<text transform="translate(738.9,535.3) scale(1,1.07)" class="t" style="font-size:29.9px" text-anchor="middle">150</text>
<text transform="translate(100.3,392.6) scale(1,1.07)" class="t" style="font-size:29.9px" text-anchor="end">100</text>
<text transform="translate(100.3,277.0) scale(1,1.07)" class="t" style="font-size:29.9px" text-anchor="end">200</text>
<text transform="translate(100.3,161.4) scale(1,1.07)" class="t" style="font-size:29.9px" text-anchor="end">300</text>
<text transform="translate(100.3,45.7) scale(1,1.07)" class="t" style="font-size:29.9px" text-anchor="end">400</text>
<text transform="translate(100.3,498.0) scale(1,1.07)" class="t" style="font-size:29.9px" text-anchor="end">0</text>
<text transform="translate(747.0,400.2) scale(1,1.07)" class="t" style="font-size:29.9px" text-anchor="start">20</text>
<text transform="translate(747.0,292.2) scale(1,1.07)" class="t" style="font-size:29.9px" text-anchor="start">40</text>
<text transform="translate(747.0,184.3) scale(1,1.07)" class="t" style="font-size:29.9px" text-anchor="start">60</text>
<text transform="translate(747.0,76.3) scale(1,1.07)" class="t" style="font-size:29.9px" text-anchor="start">80</text>
<text transform="translate(747.0,498.0) scale(1,1.07)" class="t" style="font-size:29.9px" text-anchor="start">0</text>
<text x="423.3" y="566.3" class="t" style="font-size:29.7px" text-anchor="middle">post-bounce time [ms]</text>
<text transform="translate(32.7,255.0) rotate(-90)" class="t" text-anchor="middle">Luminosity [Bethe s<tspan dy="-14.5" font-size="18">-1</tspan><tspan dy="14.5">]</tspan></text>
<text transform="translate(803.3,255.0) rotate(-90)" class="t" text-anchor="middle">Luminosity [Bethe s<tspan dy="-14.5" font-size="18">-1</tspan><tspan dy="14.5">]</tspan></text>
</svg>
</body></html>
